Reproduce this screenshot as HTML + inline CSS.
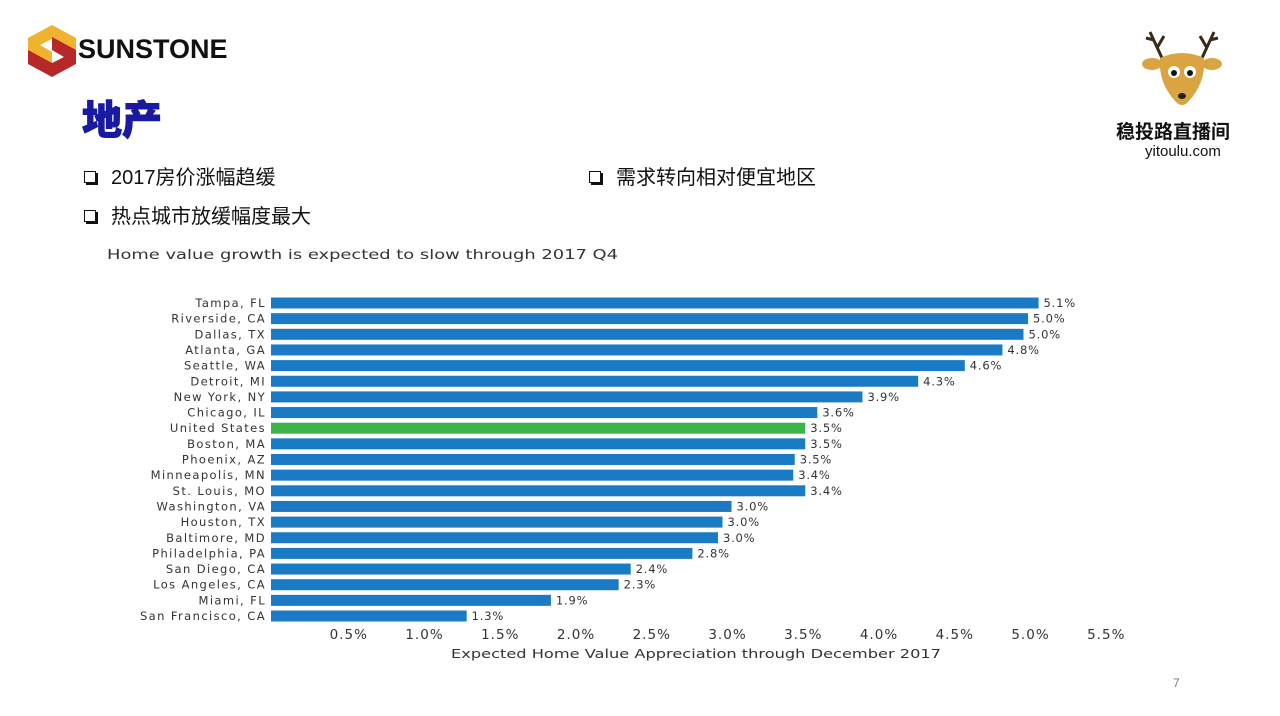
<!DOCTYPE html>
<html><head><meta charset="utf-8"><style>
body{margin:0;width:1280px;height:716px;background:#fff;position:relative;overflow:hidden;font-family:"Liberation Sans","Noto Sans CJK SC",sans-serif}
.abs{position:absolute}
.bul{font-size:20px;color:#111;}
.bul span.box{display:inline-block;width:10px;height:10px;border:1.5px solid #111;box-shadow:2px 2px 0 #111;margin-right:15px;vertical-align:1px}
</style></head><body>
<div class="abs" style="left:26px;top:25px">
<svg width="52" height="52" viewBox="0 0 52 52"><polygon points="26,0 50,13 50,27 26,14 14,20 26,27 26,40 2,27 2,13" fill="#f0b330"/><polygon points="26,52 2,39 2,25 26,38 38,32 26,25 26,12 50,25 50,39" fill="#b31d1d" opacity="0.95"/></svg>
</div>
<div class="abs" style="left:78px;top:34px;font-size:27px;font-weight:bold;color:#111">SUNSTONE</div>
<div class="abs" style="left:82px;top:88px;font-size:40px;font-weight:900;color:#1a1aa0;-webkit-text-stroke:1px #1a1aa0">地产</div>
<div class="abs bul" style="left:84px;top:161px"><span class="box"></span>2017房价涨幅趋缓</div>
<div class="abs bul" style="left:84px;top:200px"><span class="box"></span>热点城市放缓幅度最大</div>
<div class="abs bul" style="left:589px;top:161px"><span class="box"></span>需求转向相对便宜地区</div>
<div class="abs" style="left:1140px;top:28px">
<svg width="84" height="82" viewBox="0 0 84 82"><g stroke="#3a2a1a" stroke-width="3" fill="none"><path d="M22,30 L10,4 M14,12 L6,10 M17,20 L24,8"/><path d="M62,30 L74,4 M70,12 L78,10 M67,20 L60,8"/></g><ellipse cx="12" cy="36" rx="10" ry="6" fill="#d9a441"/><ellipse cx="72" cy="36" rx="10" ry="6" fill="#d9a441"/><path d="M20,30 Q42,20 64,30 Q66,55 48,74 Q42,80 36,74 Q18,55 20,30Z" fill="#d9a441"/><circle cx="34" cy="44" r="6" fill="#fff"/><circle cx="50" cy="44" r="6" fill="#fff"/><circle cx="34" cy="45" r="3" fill="#111"/><circle cx="50" cy="45" r="3" fill="#111"/><ellipse cx="42" cy="68" rx="4" ry="3" fill="#222"/></svg>
</div>
<div class="abs" style="left:1116px;top:117px;font-size:19px;font-weight:bold;color:#111">稳投路直播间</div>
<div class="abs" style="left:1145px;top:143px;font-size:15px;color:#111">yitoulu.com</div>
<svg class="abs" style="left:0;top:0" width="1280" height="716" id="chart">
<text x="107" y="259" font-size="13.5" fill="#333" font-family="DejaVu Sans, sans-serif" textLength="511" lengthAdjust="spacingAndGlyphs">Home value growth is expected to slow through 2017 Q4</text>
</svg>
<div class="abs" style="left:1173px;top:676px;font-size:12px;color:#777">7</div>
<script>
const categories=["Tampa, FL","Riverside, CA","Dallas, TX","Atlanta, GA","Seattle, WA","Detroit, MI","New York, NY","Chicago, IL","United States","Boston, MA","Phoenix, AZ","Minneapolis, MN","St. Louis, MO","Washington, VA","Houston, TX","Baltimore, MD","Philadelphia, PA","San Diego, CA","Los Angeles, CA","Miami, FL","San Francisco, CA"];
const values=[5.1,5.0,5.0,4.8,4.6,4.3,3.9,3.6,3.5,3.5,3.5,3.4,3.4,3.0,3.0,3.0,2.8,2.4,2.3,1.9,1.3];
const barEnds=[5.1,5.03,5.0,4.86,4.61,4.3,3.93,3.63,3.55,3.55,3.48,3.47,3.55,3.06,3.0,2.97,2.8,2.39,2.31,1.86,1.3];
const tickValues=[0.5,1.0,1.5,2.0,2.5,3.0,3.5,4.0,4.5,5.0,5.5];
const tickLabels=["0.5%","1.0%","1.5%","2.0%","2.5%","3.0%","3.5%","4.0%","4.5%","5.0%","5.5%"];
const highlight="United States";
const NS="http://www.w3.org/2000/svg";
const svg=document.getElementById('chart');
const x=v=>271+v*150.5;
const tx=v=>273+v*151.5;
const y=i=>303+i*15.65;
const FF='DejaVu Sans, sans-serif';
function mk(t,a){const e=document.createElementNS(NS,t);for(const k in a)e.setAttribute(k,a[k]);svg.appendChild(e);return e;}
categories.forEach((c,i)=>{
  const r=mk('rect',{x:271,y:y(i)-5.5,width:x(barEnds[i])-271,height:11,fill:c===highlight?'#3bb54a':'#1a7bc4'});
  
  
  const l=mk('text',{x:266,y:y(i)+4,'text-anchor':'end','font-size':11.5,fill:'#333','letter-spacing':'1.4','font-family':FF});
  l.textContent=c;
  
  
  const v=mk('text',{x:x(barEnds[i])+5,y:y(i)+4,'font-size':11.5,fill:'#333','letter-spacing':'0.8','font-family':FF});
  v.textContent=values[i].toFixed(1)+'%';
  
  
});
tickValues.forEach((t,i)=>{
  const e=mk('text',{x:tx(t),y:639,'text-anchor':'middle','font-size':13.5,fill:'#333','letter-spacing':'1','font-family':FF});
  e.textContent=tickLabels[i];
  
  
});
const xt=mk('text',{x:451,y:658,'font-size':12.5,fill:'#333','font-family':FF,textLength:490,lengthAdjust:'spacingAndGlyphs'});
xt.textContent='Expected Home Value Appreciation through December 2017';


</script>
</body></html>
